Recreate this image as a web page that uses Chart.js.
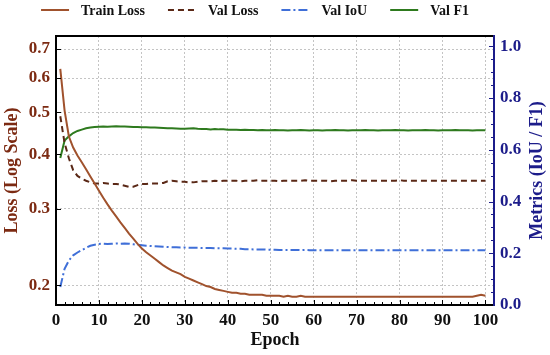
<!DOCTYPE html>
<html>
<head>
<meta charset="utf-8">
<script src="https://cdn.jsdelivr.net/npm/chart.js@4.4.0/dist/chart.umd.min.js"></script>
<style>
  html, body { margin: 0; padding: 0; background: #fff; }
</style>
</head>
<body>
<canvas id="trainChart" width="550" height="355"></canvas>
<script>
const epochs = [
  1, 2, 3, 4, 5, 6, 7, 8, 9, 10, 11, 12, 13, 14, 15, 16, 17, 18, 19, 20,
  21, 22, 23, 24, 25, 26, 27, 28, 29, 30, 31, 32, 33, 34, 35, 36, 37, 38, 39, 40,
  41, 42, 43, 44, 45, 46, 47, 48, 49, 50, 51, 52, 53, 54, 55, 56, 57, 58, 59, 60,
  61, 62, 63, 64, 65, 66, 67, 68, 69, 70, 71, 72, 73, 74, 75, 76, 77, 78, 79, 80,
  81, 82, 83, 84, 85, 86, 87, 88, 89, 90, 91, 92, 93, 94, 95, 96, 97, 98, 99, 100
];

const trainLoss = [
  0.630, 0.505, 0.440, 0.415, 0.398, 0.384, 0.370, 0.356, 0.343, 0.330,
  0.318, 0.307, 0.297, 0.288, 0.279, 0.271, 0.263, 0.256, 0.249, 0.243,
  0.238, 0.234, 0.230, 0.226, 0.222, 0.219, 0.216, 0.214, 0.212, 0.209,
  0.207, 0.205, 0.203, 0.201, 0.199, 0.198, 0.196, 0.195, 0.194, 0.193,
  0.192, 0.192, 0.191, 0.191, 0.190, 0.190, 0.190, 0.190, 0.189, 0.189,
  0.189, 0.189, 0.188, 0.189, 0.188, 0.188, 0.189, 0.188, 0.188, 0.188,
  0.188, 0.188, 0.188, 0.188, 0.188, 0.188, 0.188, 0.188, 0.188, 0.188,
  0.188, 0.188, 0.188, 0.188, 0.188, 0.188, 0.188, 0.188, 0.188, 0.188,
  0.188, 0.188, 0.188, 0.188, 0.188, 0.188, 0.188, 0.188, 0.188, 0.188,
  0.188, 0.188, 0.188, 0.188, 0.188, 0.188, 0.188, 0.189, 0.190, 0.189
];

const valLoss = [
  0.490, 0.425, 0.392, 0.368, 0.357, 0.352, 0.348, 0.345, 0.343, 0.343,
  0.344, 0.343, 0.342, 0.342, 0.341, 0.339, 0.337, 0.337, 0.340, 0.342,
  0.342, 0.343, 0.343, 0.343, 0.344, 0.347, 0.348, 0.347, 0.346, 0.346,
  0.345, 0.345, 0.346, 0.347, 0.347, 0.347, 0.348, 0.347, 0.348, 0.348,
  0.348, 0.348, 0.347, 0.348, 0.348, 0.348, 0.349, 0.348, 0.348, 0.348,
  0.348, 0.347, 0.348, 0.348, 0.348, 0.348, 0.348, 0.349, 0.348, 0.348,
  0.348, 0.348, 0.348, 0.347, 0.348, 0.348, 0.348, 0.348, 0.349, 0.348,
  0.348, 0.348, 0.348, 0.348, 0.348, 0.348, 0.348, 0.348, 0.348, 0.349,
  0.348, 0.348, 0.348, 0.348, 0.348, 0.348, 0.348, 0.348, 0.348, 0.348,
  0.348, 0.348, 0.348, 0.348, 0.348, 0.348, 0.348, 0.348, 0.348, 0.348
];

const valIoU = [
  0.070, 0.140, 0.172, 0.192, 0.203, 0.212, 0.221, 0.229, 0.233, 0.236,
  0.237, 0.236, 0.237, 0.238, 0.237, 0.238, 0.237, 0.235, 0.233, 0.231,
  0.229, 0.228, 0.227, 0.226, 0.225, 0.224, 0.223, 0.223, 0.222, 0.222,
  0.221, 0.221, 0.221, 0.220, 0.220, 0.220, 0.219, 0.219, 0.219, 0.218,
  0.218, 0.217, 0.217, 0.216, 0.216, 0.215, 0.215, 0.215, 0.214, 0.214,
  0.214, 0.213, 0.213, 0.213, 0.213, 0.213, 0.212, 0.213, 0.212, 0.212,
  0.212, 0.212, 0.212, 0.212, 0.212, 0.212, 0.212, 0.212, 0.212, 0.212,
  0.212, 0.212, 0.212, 0.212, 0.212, 0.212, 0.212, 0.212, 0.212, 0.212,
  0.212, 0.212, 0.212, 0.212, 0.212, 0.212, 0.212, 0.212, 0.212, 0.212,
  0.212, 0.212, 0.212, 0.212, 0.212, 0.212, 0.212, 0.212, 0.212, 0.212
];

const valF1 = [
  0.568, 0.636, 0.652, 0.665, 0.673, 0.678, 0.683, 0.686, 0.688, 0.689,
  0.690, 0.689, 0.690, 0.691, 0.690, 0.690, 0.689, 0.688, 0.688, 0.687,
  0.687, 0.686, 0.686, 0.685, 0.684, 0.683, 0.683, 0.682, 0.681, 0.681,
  0.682, 0.683, 0.681, 0.680, 0.680, 0.679, 0.680, 0.679, 0.679, 0.678,
  0.678, 0.678, 0.677, 0.678, 0.677, 0.677, 0.676, 0.677, 0.676, 0.676,
  0.677, 0.676, 0.676, 0.675, 0.676, 0.676, 0.677, 0.676, 0.675, 0.676,
  0.676, 0.675, 0.676, 0.676, 0.677, 0.676, 0.676, 0.675, 0.676, 0.676,
  0.676, 0.677, 0.676, 0.676, 0.675, 0.676, 0.676, 0.676, 0.677, 0.676,
  0.676, 0.675, 0.676, 0.676, 0.676, 0.677, 0.676, 0.676, 0.675, 0.676,
  0.676, 0.676, 0.677, 0.676, 0.676, 0.676, 0.675, 0.676, 0.676, 0.676
];

const xTicks = [0, 10, 20, 30, 40, 50, 60, 70, 80, 90, 100];
const lossTicks = [0.2, 0.3, 0.4, 0.5, 0.6, 0.7];
const metricTicks = [0, 0.2, 0.4, 0.6, 0.8, 1.0];

const FONT = "'Liberation Serif', 'Times New Roman', serif";
const LOSS_COLOR = "#7c2a12";
const METRIC_COLOR = "#1c1c8a";
const GRID_COLOR = "#c4c4c4";

function points(values) {
  return epochs.map((e, i) => ({ x: e, y: values[i] }));
}

// frame, inward tick marks, right axis title and legend
const decorations = {
  id: "decorations",
  afterDraw(chart) {
    const { ctx, chartArea: a, scales } = chart;
    ctx.save();
    ctx.setLineDash([]);

    // ticks
    ctx.lineWidth = 1;
    ctx.strokeStyle = "#000";
    for (let v = 0; v <= 102; v += 2) {
      const px = Math.round(scales.x.getPixelForValue(v)) + 0.5;
      const len = v % 10 === 0 ? 5 : 3;
      ctx.beginPath();
      ctx.moveTo(px, a.bottom);
      ctx.lineTo(px, a.bottom - len);
      ctx.stroke();
    }
    lossTicks.forEach((v) => {
      const py = Math.round(scales.y.getPixelForValue(v)) + 0.5;
      ctx.beginPath();
      ctx.moveTo(a.left, py);
      ctx.lineTo(a.left + 5, py);
      ctx.stroke();
    });
    ctx.strokeStyle = METRIC_COLOR;
    for (let i = 0; i <= 20; i++) {
      const v = i * 0.05;
      const py = Math.round(scales.y1.getPixelForValue(v)) + 0.5;
      const len = i % 4 === 0 ? 5 : 3;
      ctx.beginPath();
      ctx.moveTo(a.right, py);
      ctx.lineTo(a.right - len, py);
      ctx.stroke();
    }

    // frame
    ctx.lineWidth = 2;
    ctx.strokeStyle = "#000";
    ctx.beginPath();
    ctx.moveTo(a.right, a.top);
    ctx.lineTo(a.left, a.top);
    ctx.lineTo(a.left, a.bottom);
    ctx.lineTo(a.right, a.bottom);
    ctx.stroke();
    ctx.strokeStyle = METRIC_COLOR;
    ctx.beginPath();
    ctx.moveTo(a.right, a.top - 1);
    ctx.lineTo(a.right, a.bottom + 1);
    ctx.stroke();

    // right axis title, reading bottom to top
    ctx.save();
    ctx.translate(537, (a.top + a.bottom) / 2);
    ctx.rotate(-Math.PI / 2);
    ctx.font = "bold 18px " + FONT;
    ctx.fillStyle = METRIC_COLOR;
    ctx.textAlign = "center";
    ctx.textBaseline = "middle";
    ctx.fillText("Metrics (IoU / F1)", 0, 0);
    ctx.restore();

    // legend
    ctx.font = "bold 14px " + FONT;
    ctx.textBaseline = "middle";
    ctx.textAlign = "left";
    const lineLen = 28, textGap = 12, itemGap = 23, ly = 10;
    const items = chart.data.datasets.map((ds) => ({
      ds, w: ctx.measureText(ds.label).width
    }));
    const total = items.reduce((s, it) => s + lineLen + textGap + it.w, 0) + itemGap * (items.length - 1);
    let lx = 255 - total / 2;
    items.forEach((it) => {
      ctx.strokeStyle = it.ds.borderColor;
      ctx.lineWidth = it.ds.borderWidth;
      ctx.setLineDash(it.ds.borderDash || []);
      ctx.beginPath();
      ctx.moveTo(lx, ly);
      ctx.lineTo(lx + lineLen, ly);
      ctx.stroke();
      ctx.setLineDash([]);
      ctx.fillStyle = "#111";
      ctx.fillText(it.ds.label, lx + lineLen + textGap, ly + 1);
      lx += lineLen + textGap + it.w + itemGap;
    });
    ctx.restore();
  }
};

const ctx = document.getElementById("trainChart").getContext("2d");

const trainChart = new Chart(ctx, {
  type: "line",
  data: {
    datasets: [
      {
        label: "Train Loss",
        data: points(trainLoss),
        yAxisID: "y",
        borderColor: "#a0522d",
        borderWidth: 2,
        pointRadius: 0,
        tension: 0,
      },
      {
        label: "Val Loss",
        data: points(valLoss),
        yAxisID: "y",
        borderColor: "#5a2816",
        borderWidth: 2,
        borderDash: [6, 4],
        pointRadius: 0,
        tension: 0,
      },
      {
        label: "Val IoU",
        data: points(valIoU),
        yAxisID: "y1",
        borderColor: "#3f6fd8",
        borderWidth: 2,
        borderDash: [9, 3, 2, 3],
        pointRadius: 0,
        tension: 0,
      },
      {
        label: "Val F1",
        data: points(valF1),
        yAxisID: "y1",
        borderColor: "#2e7a1e",
        borderWidth: 2,
        pointRadius: 0,
        tension: 0,
      },
    ],
  },
  options: {
    responsive: false,
    animation: false,
    devicePixelRatio: 1,
    layout: { padding: { top: 36, left: 0, right: 0, bottom: 0 } },
    plugins: {
      legend: { display: false },
      tooltip: { enabled: false },
    },
    scales: {
      x: {
        type: "linear",
        min: 0,
        max: 102,
        afterBuildTicks: (s) => { s.ticks = xTicks.map((v) => ({ value: v })); },
        afterFit: (s) => { s.height = 50; },
        grid: { color: GRID_COLOR, lineWidth: 1, drawTicks: false },
        border: { display: false, dash: [2, 2] },
        ticks: {
          padding: 5,
          color: "#111",
          autoSkip: false,
          maxRotation: 0,
          font: { family: FONT, size: 17, weight: "bold" },
        },
        title: {
          display: true,
          text: "Epoch",
          color: "#111",
          font: { family: FONT, size: 18, weight: "bold" },
          padding: { top: 0, bottom: 4 },
        },
      },
      y: {
        type: "logarithmic",
        position: "left",
        min: 0.18,
        max: 0.75,
        afterBuildTicks: (s) => { s.ticks = lossTicks.map((v) => ({ value: v })); },
        afterFit: (s) => { s.width = 56; },
        grid: { color: GRID_COLOR, lineWidth: 1, drawTicks: false },
        border: { display: false, dash: [2, 2] },
        ticks: {
          padding: 6,
          color: LOSS_COLOR,
          autoSkip: false,
          font: { family: FONT, size: 17, weight: "bold" },
          callback: (v) => Number(v).toFixed(1),
        },
        title: {
          display: true,
          text: "Loss (Log Scale)",
          color: LOSS_COLOR,
          font: { family: FONT, size: 18, weight: "bold" },
          padding: { top: 2, bottom: 0 },
        },
      },
      y1: {
        type: "linear",
        position: "right",
        min: 0,
        max: 1.04,
        afterBuildTicks: (s) => { s.ticks = metricTicks.map((v) => ({ value: v })); },
        afterFit: (s) => { s.width = 56; },
        grid: { drawOnChartArea: false, drawTicks: false },
        border: { display: false },
        ticks: {
          padding: 6,
          color: METRIC_COLOR,
          autoSkip: false,
          font: { family: FONT, size: 17, weight: "bold" },
          callback: (v) => Number(v).toFixed(1),
        },
      },
    },
  },
  plugins: [decorations],
});
</script>
</body>
</html>
